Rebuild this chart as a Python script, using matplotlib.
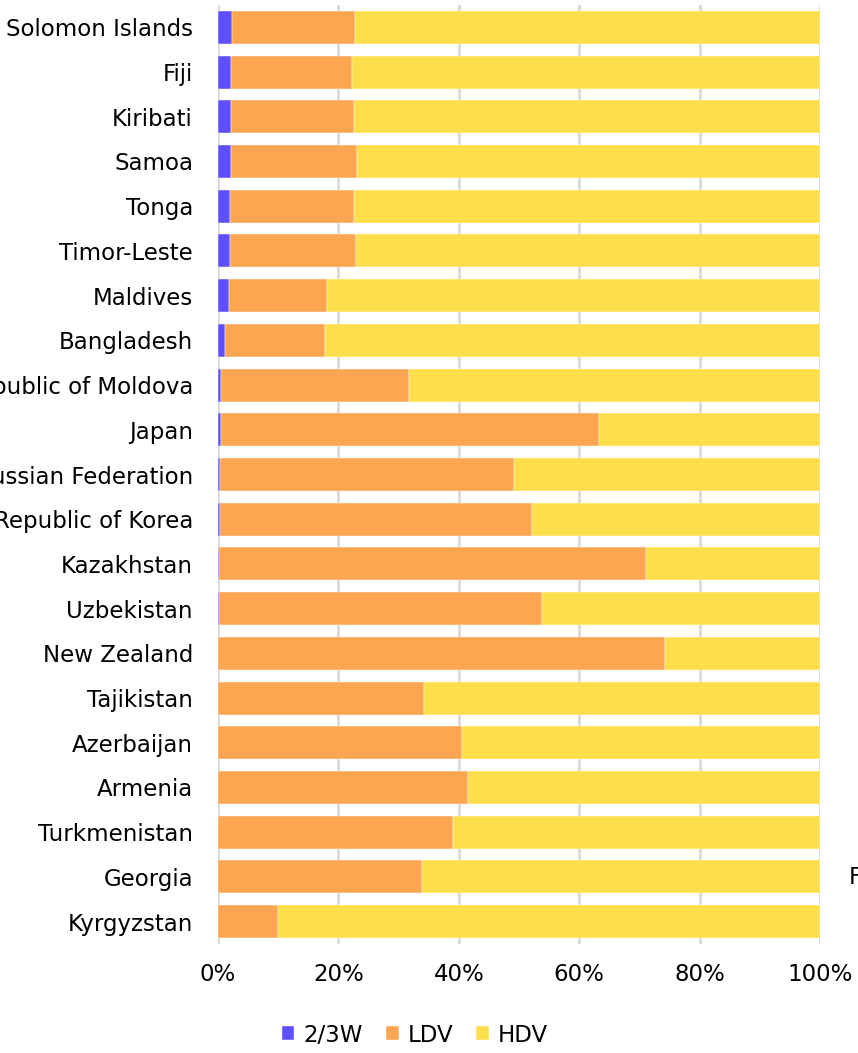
import matplotlib.pyplot as plt
import numpy as np

plt.rcParams['font.family'] = ['DejaVu Sans']

countries = ["Solomon Islands", "Fiji", "Kiribati", "Samoa", "Tonga", "Timor-Leste",
             "Maldives", "Bangladesh", "Republic of Moldova", "Japan", "Russian Federation",
             "Republic of Korea", "Kazakhstan", "Uzbekistan", "New Zealand", "Tajikistan",
             "Azerbaijan", "Armenia", "Turkmenistan", "Georgia", "Kyrgyzstan"]

# shares in percent
w23 = [2.3, 2.2, 2.1, 2.1, 2.0, 2.0, 1.8, 1.2, 0.5, 0.5, 0.35,
       0.3, 0.15, 0.1, 0.05, 0.02, 0.02, 0.0, 0.0, 0.0, 0.0]
ldv = [20.5, 20.1, 20.5, 21.0, 20.6, 21.0, 16.3, 16.6, 31.2, 62.8, 48.85,
       51.9, 70.95, 53.7, 74.25, 34.2, 40.5, 41.5, 39.0, 33.9, 10.0]
hdv = [100 - a - b for a, b in zip(w23, ldv)]

c_w23 = '#5F50FF'
c_ldv = '#FCA652'
c_hdv = '#FFDE4C'

fig = plt.figure(figsize=(8.58, 10.53), dpi=100)
ax = fig.add_axes([218/858, 1 - 944/1053, (820 - 218)/858, (944 - 5)/1053])

y = np.arange(len(countries))
h = 0.74
ax.barh(y, w23, height=h, color=c_w23, label='2/3W', edgecolor='white', linewidth=0.3, zorder=3)
ax.barh(y, ldv, left=w23, height=h, color=c_ldv, label='LDV', edgecolor='white', linewidth=0.3, zorder=3)
ax.barh(y, hdv, left=np.array(w23) + np.array(ldv), height=h, color=c_hdv, label='HDV',
        edgecolor='white', linewidth=0.3, zorder=3)

fs = 16.5
ax.set_ylim(len(countries) - 0.5, -0.5)
ax.set_xlim(0, 100)
ax.set_yticks(y)
ax.set_yticklabels(countries, fontsize=fs)
ax.set_xticks([0, 20, 40, 60, 80, 100])
ax.set_xticklabels(['0%', '20%', '40%', '60%', '80%', '100%'], fontsize=fs)
ax.tick_params(axis='y', length=0, pad=18)
ax.tick_params(axis='x', length=0, pad=14)
ax.xaxis.grid(True, color='#d9d9d9', linewidth=2, zorder=0)
for s in ax.spines.values():
    s.set_visible(False)

fig.legend(loc='center', bbox_to_anchor=(415/858, 1 - 1035/1053), ncol=3, frameon=False,
           fontsize=fs, handlelength=0.55, handleheight=0.55, handletextpad=0.4, columnspacing=1.0)

fig.text(849/858, 1 - 877/1053, 'F', fontsize=fs, va='center', ha='left')

fig.savefig('out.png', dpi=100)
